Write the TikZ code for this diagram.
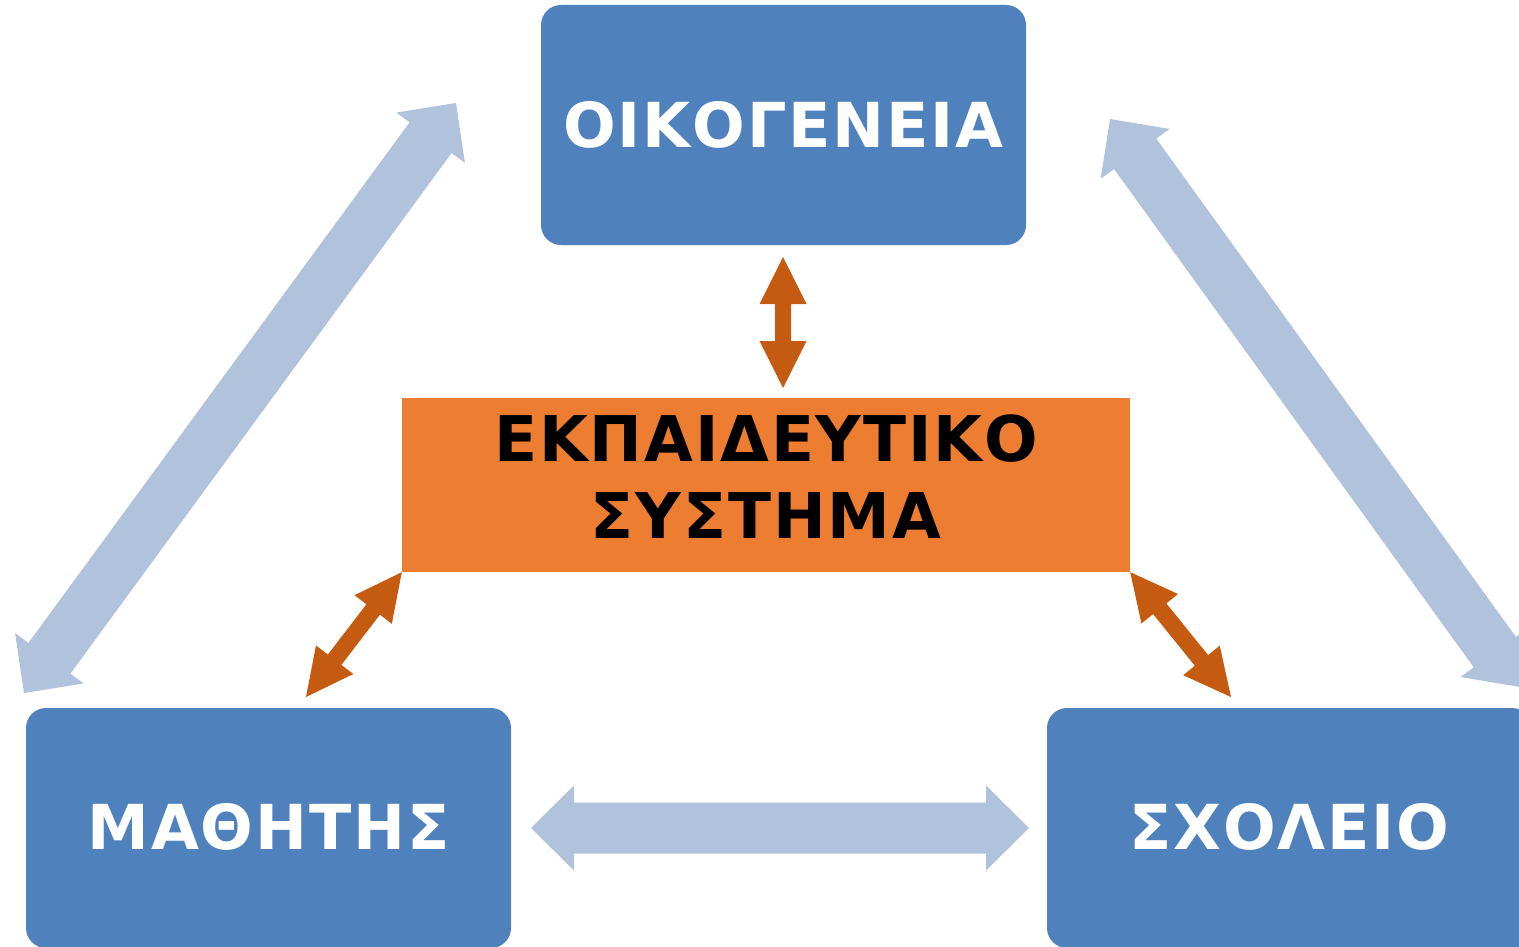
\documentclass[tikz,border=0pt]{standalone}
\usepackage{fontspec}
\setmainfont{DejaVu Sans}[LetterSpace=3]
\usetikzlibrary{calc}
\definecolor{boxblue}{HTML}{4F81BD}
\definecolor{boxorange}{HTML}{ED7D31}
\definecolor{arrowblue}{HTML}{B1C2DD}
\definecolor{arroworange}{HTML}{C55A11}
\newcommand\blockarrow[6]{%
  \path ($(#2)!#4!(#3)$) coordinate (pa) ($(#3)!#4!(#2)$) coordinate (pb);
  \fill[#1] (#2) -- ($(pa)!#5!90:(#3)$) -- ($(pa)!#6!90:(#3)$)
    -- ($(pb)!#6!-90:(#2)$) -- ($(pb)!#5!-90:(#2)$) -- (#3)
    -- ($(pb)!#5!90:(#2)$) -- ($(pb)!#6!90:(#2)$)
    -- ($(pa)!#6!-90:(#3)$) -- ($(pa)!#5!-90:(#3)$) -- cycle;}
\tikzset{
  bluebox/.style={draw=none, fill=boxblue, rounded corners=20pt, minimum width=485pt,
    minimum height=240pt, inner sep=0pt, text=white, font=\fontsize{62}{77}\selectfont\bfseries},
  centralbox/.style={draw=none, fill=boxorange, minimum width=728pt, minimum height=174pt,
    inner sep=0pt, text=black, font=\fontsize{63}{77}\selectfont\bfseries},
  lightarrow/.style={fill=arrowblue},
  darkarrow/.style={fill=arroworange}
}
\begin{document}
\begin{tikzpicture}[x=1pt, y=-1pt]
\useasboundingbox (0,0) rectangle (1519,947);
\clip (0,0) rectangle (1519,947);
% boxes
\node[bluebox] (fam) at (783.5,125) {\raisebox{2pt}{ΟΙΚΟΓΕΝΕΙΑ}};
\node[bluebox] (stu) at (268.5,828) {\raisebox{4pt}{ΜΑΘΗΤΗΣ}};
\node[bluebox] (sch) at (1289.5,828) {\raisebox{4pt}{ΣΧΟΛΕΙΟ}};
\node[centralbox] (edu) at (766,485) {\raisebox{8pt}{\begin{tabular}{@{}c@{}}ΕΚΠΑΙΔΕΥΤΙΚΟ\\ΣΥΣΤΗΜΑ\end{tabular}}};
% arrow end points
\coordinate (l1) at (456,103);  \coordinate (l2) at (24,693);
\coordinate (r1) at (1110,119); \coordinate (r2) at (1520,687);
\coordinate (h1) at (531,828);  \coordinate (h2) at (1029,828);
\coordinate (v1) at (783,257);  \coordinate (v2) at (783,388);
\coordinate (ol1) at (edu.south west); \coordinate (ol2) at (306,697);
\coordinate (or1) at (edu.south east); \coordinate (or2) at (1231,697);
% light blue block arrows
\blockarrow{lightarrow}{l1}{l2}{43pt}{42.5pt}{26pt}
\blockarrow{lightarrow}{r1}{r2}{43pt}{42.5pt}{26pt}
\blockarrow{lightarrow}{h1}{h2}{43pt}{42.5pt}{25.5pt}
% dark orange block arrows
\blockarrow{darkarrow}{v1}{v2}{47pt}{23.5pt}{8pt}
\blockarrow{darkarrow}{ol1}{ol2}{47pt}{23.5pt}{8.5pt}
\blockarrow{darkarrow}{or1}{or2}{47pt}{23.5pt}{8.5pt}
\end{tikzpicture}
\end{document}
